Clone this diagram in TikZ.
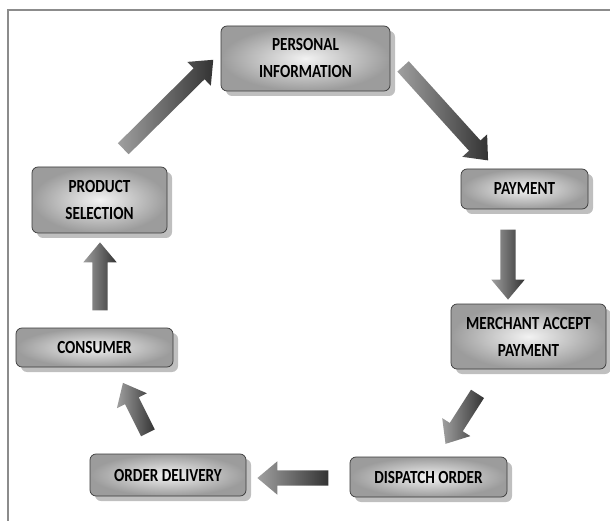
\documentclass[tikz,border=0pt]{standalone}
\usepackage{fontspec}
\setmainfont{Carlito}[FakeStretch=0.82]
\usetikzlibrary{shapes.arrows,shadows,calc}
\tikzset{
  stagebox/.style={draw=gray!45!black, line width=0.7pt, rounded corners=6pt,
    shading=radial, inner color=gray!10, outer color=gray!78,
    drop shadow={shadow xshift=5pt, shadow yshift=-5pt, fill=gray!50, opacity=1},
    font=\bfseries\fontsize{18.5}{27}\selectfont, align=center, inner sep=0pt},
  flowarrow/.style={single arrow, single arrow head extend=9pt, single arrow tip angle=80,
    inner xsep=0pt, inner ysep=7.5pt, minimum width=33pt, draw=none,
    shading=axis, left color=gray!75, right color=gray!40!black},
  framerule/.style={draw=gray!90, line width=1.8pt}
}
\newcommand\flowarr[2]{\path let \p1=($(#2)-(#1)$), \n1={atan2(\y1,\x1)}, \n2={veclen(\x1,\y1)} in node[flowarrow, minimum height=\n2, rotate=\n1] at ($(#1)!0.5!(#2)$) {};}
\begin{document}
\begin{tikzpicture}[x=1pt,y=-1pt]
\useasboundingbox (0,0) rectangle (610,521);
\coordinate (fa) at (8,521);
\coordinate (fb) at (8,10);
\coordinate (fc) at (610,10);
\draw[framerule] (fa) -- (fb) -- (fc);

\node[stagebox, minimum width=169pt, minimum height=65pt] (pi) at (305.5,58.5) {PERSONAL\\INFORMATION};
\node[stagebox, minimum width=135pt, minimum height=66pt] (ps) at (99.5,200) {PRODUCT\\SELECTION};
\node[stagebox, minimum width=157pt, minimum height=39pt] (con) at (94.5,347.5) {CONSUMER};
\node[stagebox, minimum width=127pt, minimum height=40pt] (pay) at (524.5,189) {PAYMENT};
\node[stagebox, minimum width=155pt, minimum height=65pt] (mer) at (528.5,336.5) {MERCHANT ACCEPT\\PAYMENT};
\node[stagebox, minimum width=156pt, minimum height=42pt] (od) at (168,475) {ORDER DELIVERY};
\node[stagebox, minimum width=157pt, minimum height=40pt] (dis) at (428.5,477) {DISPATCH ORDER};

\coordinate (a1s) at (100,315); \coordinate (a1t) at (100,247);
\coordinate (a2s) at (120,152); \coordinate (a2t) at (210,63);
\coordinate (a3s) at (400,63);  \coordinate (a3t) at (485,157);
\coordinate (a4s) at (508,225); \coordinate (a4t) at (508,295);
\coordinate (a5s) at (480,390); \coordinate (a5t) at (448,440);
\coordinate (a6s) at (333,478); \coordinate (a6t) at (262,478);
\coordinate (a7s) at (150,437); \coordinate (a7t) at (125,387);
\flowarr{a1s}{a1t}
\flowarr{a2s}{a2t}
\flowarr{a3s}{a3t}
\flowarr{a4s}{a4t}
\flowarr{a5s}{a5t}
\flowarr{a6s}{a6t}
\flowarr{a7s}{a7t}
\end{tikzpicture}
\end{document}
